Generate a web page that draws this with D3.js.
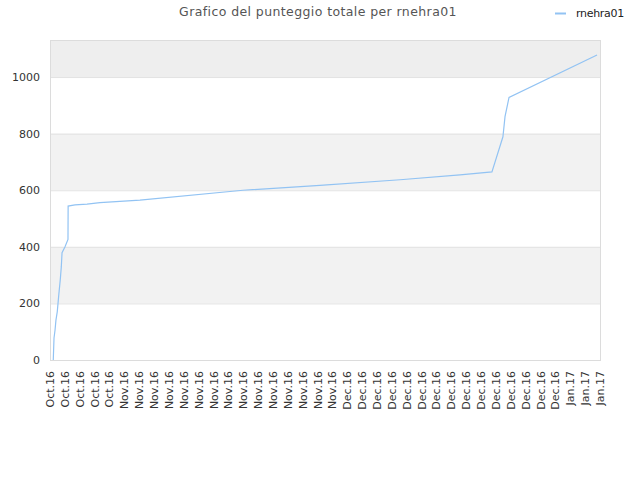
<!DOCTYPE html>
<html>
<head>
<meta charset="utf-8">
<script src="https://cdn.jsdelivr.net/npm/d3@7"></script>
<style>
  body { margin: 0; background: #fff; }
  text { font-family: "DejaVu Sans", sans-serif; }
</style>
</head>
<body>
<script>
// x labels, one every two days
var labels = [].concat(
  Array(5).fill("Oct.16"),
  Array(15).fill("Nov.16"),
  Array(15).fill("Dec.16"),
  Array(3).fill("Jan.17")
);
// position along the label axis (label index) and total score
var pos = [0.22, 0.27, 0.34, 0.40, 0.49, 0.59, 0.69, 0.76, 0.81, 1.01, 1.21, 1.22, 1.68, 2.49, 3.36, 6.05, 12.98, 18.16, 23.55, 27.58, 29.73, 30.47, 30.61, 30.88, 36.8];
var score = [0, 78, 106, 141, 171, 230, 283, 329, 379, 400, 426, 544, 548, 551, 556, 565, 600, 617, 637, 654, 665, 789, 860, 928, 1078];
var yTicks = [0, 200, 400, 600, 800, 1000];
var yMax = 1131;
var title = "Grafico del punteggio totale per rnehra01";
var seriesName = "rnehra01";

var W = 640, H = 480;
var m = {left: 50, right: 40, top: 40, bottom: 120};

var svg = d3.select("body").append("svg")
    .attr("width", W)
    .attr("height", H);

var x = d3.scaleLinear().domain([0, labels.length - 1]).range([m.left, W - m.right]);
var y = d3.scaleLinear().domain([0, yMax]).range([H - m.bottom, m.top]);

// background bands
var bands = [[200, 400, "#f2f2f2"], [600, 800, "#f2f2f2"], [1000, yMax, "#eeeeee"]];
svg.selectAll("rect.band").data(bands).enter().append("rect")
    .attr("x", m.left)
    .attr("width", W - m.right - m.left)
    .attr("y", function(d){ return y(d[1]); })
    .attr("height", function(d){ return y(d[0]) - y(d[1]); })
    .attr("fill", function(d){ return d[2]; });

// grid lines
svg.selectAll("line.grid").data(yTicks.slice(1)).enter().append("line")
    .attr("x1", m.left).attr("x2", W - m.right)
    .attr("y1", function(d){ return y(d) + 0.5; })
    .attr("y2", function(d){ return y(d) + 0.5; })
    .attr("stroke", "#e2e2e2");

// frame
svg.append("rect")
    .attr("x", m.left + 0.5).attr("y", m.top + 0.5)
    .attr("width", W - m.right - m.left).attr("height", H - m.bottom - m.top)
    .attr("fill", "none").attr("stroke", "#dcdcdc");

// y labels
svg.selectAll("text.ytick").data(yTicks).enter().append("text")
    .attr("x", m.left - 10)
    .attr("y", function(d){ return y(d) + 4; })
    .attr("text-anchor", "end")
    .attr("font-size", 11)
    .attr("fill", "#333")
    .text(function(d){ return d; });

// x labels
svg.selectAll("text.xtick").data(labels).enter().append("text")
    .attr("transform", function(d, i){ return "translate(" + (x(i) + 4) + "," + (H - m.bottom + 11) + ") rotate(-90)"; })
    .attr("text-anchor", "end")
    .attr("font-size", 11)
    .attr("fill", "#333")
    .text(function(d){ return d; });

// line
var line = d3.line()
    .x(function(d, i){ return x(pos[i]); })
    .y(function(d){ return y(d); });

svg.append("path")
    .datum(score)
    .attr("d", line)
    .attr("fill", "none")
    .attr("stroke", "#92c3f3")
    .attr("stroke-width", 1.2);

// title
svg.append("text")
    .attr("x", 318).attr("y", 16)
    .attr("text-anchor", "middle")
    .attr("font-size", 12.5)
    .attr("fill", "#555")
    .attr("letter-spacing", 0.4)
    .text(title);

// legend
svg.append("line")
    .attr("x1", 555).attr("x2", 566)
    .attr("y1", 13.5).attr("y2", 13.5)
    .attr("stroke", "#92c3f3").attr("stroke-width", 2);
svg.append("text")
    .attr("x", 576).attr("y", 16.5)
    .attr("font-size", 11)
    .attr("fill", "#222")
    .attr("letter-spacing", -0.3)
    .text(seriesName);
</script>
</body>
</html>
